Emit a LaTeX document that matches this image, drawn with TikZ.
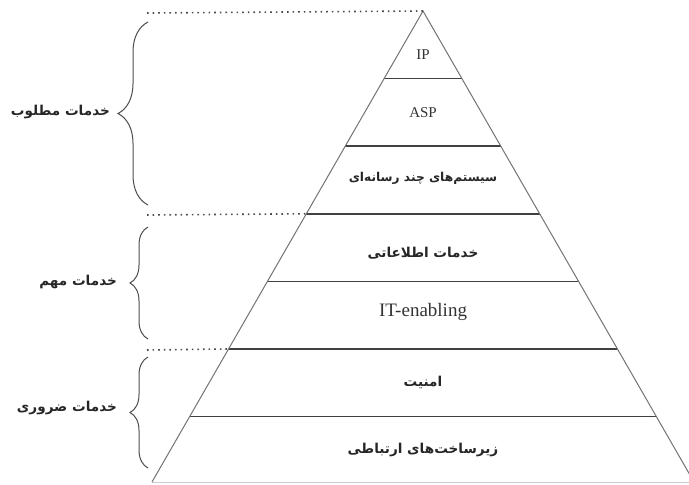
\documentclass[tikz,border=0pt]{standalone}
\usepackage{fontspec}
\setmainfont{Liberation Serif}
\newfontfamily\farsifont[Script=Arabic]{DejaVu Sans}
\TeXXeTstate=1
\usetikzlibrary{calc}
\usetikzlibrary{decorations.pathreplacing}
\tikzset{edge/.style={draw=black!55, line width=0.5pt}}
\tikzset{layer/.style={draw=black!75, line width=0.8pt}}
\tikzset{sep/.style={draw=black!70, line width=0.8pt, dotted}}
\tikzset{grp/.style={draw=black!70, line width=0.5pt, decorate,
    decoration={brace, amplitude=#1}}}
\tikzset{fa/.style={font=\farsifont\bfseries\fontsize{6.8}{8}\selectfont, text=black!85}}
\tikzset{en/.style={font=\fontsize{7.5}{9}\selectfont, text=black!80}}

\begin{document}
\begin{tikzpicture}[x=0.5pt, y=0.5pt]
            
                \useasboundingbox (0,0) rectangle (689,484);
                \clip (0,0) rectangle (689,484);
            
                \coordinate (top) at (423,473);
                \coordinate (bl) at (152,2);
                \coordinate (br) at (694,2);
            
                % layers
                \foreach \t/\n in {0.1435/1, 0.2870/2, 0.4305/3, 0.5740/4, 0.7175/5, 0.8610/6}{
                    \coordinate (L\n) at ($(top)!\t!(bl)$);
                    \coordinate (R\n) at ($(top)!\t!(br)$);
                    \draw[layer] (L\n) -- (R\n);
                }
                \draw[black!20, line width=0.5pt] (bl) -- (br);
                \draw[edge] (bl) -- (top) -- (br);
            
                \node[en] (ip) at (423,429) {IP};
                \node[en] (asp) at (423,371) {ASP};
                \node[fa, font=\farsifont\bfseries\fontsize{6.1}{8}\selectfont] (media) at (423,306) {\beginR سیستم‌های چند رسانه‌ای\endR};
                \node[fa] (info) at (423,231) {\beginR خدمات اطلاعاتی\endR};
                \node[en, font=\fontsize{9.5}{11}\selectfont] (itena) at (423,172) {IT-enabling};
                \node[fa] (sec) at (423,102) {\beginR امنیت\endR};
                \node[fa] (infra) at (423,34) {\beginR زیرساخت‌های ارتباطی\endR};
            
                % groups
                \draw[sep] (147,471) -- (top);
                \draw[sep] (147,269) -- (L3);
                \draw[sep] (147,134) -- (L5);
                \draw[grp=15pt] (148,279) -- (148,462);
                \draw[grp=9pt] (148,145) -- (148,257);
                \draw[grp=9pt] (148,16) -- (148,127);
            
                \node[fa, anchor=east] (want) at (117,372) {\beginR خدمات مطلوب\endR};
                \node[fa, anchor=east] (imp) at (124,202) {\beginR خدمات مهم\endR};
                \node[fa, anchor=east] (need) at (124,76) {\beginR خدمات ضروری\endR};
        
            \end{tikzpicture}
\end{document}
